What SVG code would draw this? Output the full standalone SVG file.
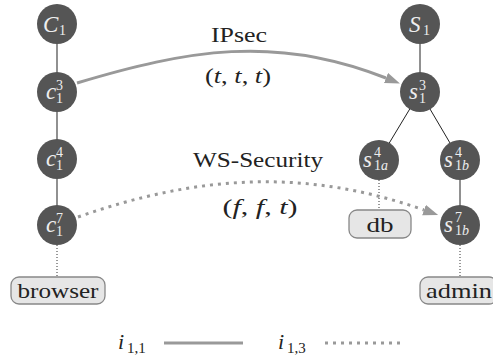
<svg xmlns="http://www.w3.org/2000/svg" width="493" height="358" viewBox="0 0 493 358">
<defs>
<style>
.nd{fill:#555;}
.tl{stroke:#555;stroke-width:1.3;fill:none;}
.tr{stroke:#222;stroke-width:1;fill:none;}
.vd{stroke:#333;stroke-width:1;stroke-dasharray:1 2;fill:none;}
.bx{fill:#e6e6e6;stroke:#888;stroke-width:1.3;}
.i1{stroke:#999;stroke-width:3;fill:none;}
.i3{stroke:#999;stroke-width:3;fill:none;stroke-dasharray:3 5;}
</style>
<marker id="ah" markerUnits="userSpaceOnUse" markerWidth="16" markerHeight="12" refX="0" refY="5.5" orient="auto">
<path d="M0,0 L15,5.5 L0,11 z" fill="#999"/>
</marker>
</defs>

<g id="tree-edges">
<line class="tl" x1="57" y1="24" x2="57" y2="92"/>
<line class="tl" x1="57" y1="92" x2="57" y2="159"/>
<line class="tl" x1="57" y1="159" x2="57" y2="225"/>
<line class="tr" x1="420" y1="24" x2="420" y2="92"/>
<line class="tr" x1="420" y1="92" x2="379" y2="160"/>
<line class="tr" x1="420" y1="92" x2="460" y2="160"/>
<line class="tr" x1="460" y1="160" x2="460" y2="225"/>
<line class="vd" x1="57" y1="245" x2="57" y2="277"/>
<line class="vd" x1="379" y1="180" x2="379" y2="210"/>
<line class="vd" x1="460" y1="245" x2="460" y2="277"/>
</g>

<g id="connectors">
<path class="i1" d="M77,83 C187,50 276,34 386,78" marker-end="url(#ah)"/>
<path class="i3" d="M78,217 C198,175 305,168 424,210" marker-end="url(#ah)"/>
</g>

<g id="C1">
<circle class="nd" cx="57" cy="24" r="20"/>
<text style="font-family:'Liberation Serif',serif;fill:#eee"><tspan x="43" y="32" style="font-size:23px;font-style:italic">C</tspan><tspan x="59" y="35" style="font-size:14px">1</tspan></text>
</g>
<g id="c13">
<circle class="nd" cx="57" cy="92" r="20"/>
<text style="font-family:'Liberation Serif',serif;fill:#eee"><tspan x="46" y="99" style="font-size:23px;font-style:italic">c</tspan><tspan x="56" y="90" style="font-size:14px">3</tspan><tspan x="56" y="103" style="font-size:14px">1</tspan></text>
</g>
<g id="c14">
<circle class="nd" cx="57" cy="159" r="20"/>
<text style="font-family:'Liberation Serif',serif;fill:#eee"><tspan x="46" y="166" style="font-size:23px;font-style:italic">c</tspan><tspan x="56" y="157" style="font-size:14px">4</tspan><tspan x="56" y="170" style="font-size:14px">1</tspan></text>
</g>
<g id="c17">
<circle class="nd" cx="57" cy="225" r="20"/>
<text style="font-family:'Liberation Serif',serif;fill:#eee"><tspan x="46" y="232" style="font-size:23px;font-style:italic">c</tspan><tspan x="56" y="223" style="font-size:14px">7</tspan><tspan x="56" y="236" style="font-size:14px">1</tspan></text>
</g>
<g id="S1">
<circle class="nd" cx="420" cy="24" r="20"/>
<text style="font-family:'Liberation Serif',serif;fill:#eee"><tspan x="409" y="32" style="font-size:23px;font-style:italic">S</tspan><tspan x="423" y="35" style="font-size:14px">1</tspan></text>
</g>
<g id="s13">
<circle class="nd" cx="420" cy="92" r="20"/>
<text style="font-family:'Liberation Serif',serif;fill:#eee"><tspan x="409" y="99" style="font-size:23px;font-style:italic">s</tspan><tspan x="419" y="90" style="font-size:14px">3</tspan><tspan x="419" y="103" style="font-size:14px">1</tspan></text>
</g>
<g id="s1a4">
<circle class="nd" cx="379" cy="160" r="20"/>
<text style="font-family:'Liberation Serif',serif;fill:#eee"><tspan x="363" y="167" style="font-size:23px;font-style:italic">s</tspan><tspan x="374" y="157" style="font-size:14px">4</tspan><tspan x="374" y="170" style="font-size:14px">1</tspan><tspan style="font-size:14px;font-style:italic">a</tspan></text>
</g>
<g id="s1b4">
<circle class="nd" cx="460" cy="160" r="20"/>
<text style="font-family:'Liberation Serif',serif;fill:#eee"><tspan x="444" y="167" style="font-size:23px;font-style:italic">s</tspan><tspan x="455" y="157" style="font-size:14px">4</tspan><tspan x="455" y="170" style="font-size:14px">1</tspan><tspan style="font-size:14px;font-style:italic">b</tspan></text>
</g>
<g id="s1b7">
<circle class="nd" cx="460" cy="225" r="20"/>
<text style="font-family:'Liberation Serif',serif;fill:#eee"><tspan x="444" y="232" style="font-size:23px;font-style:italic">s</tspan><tspan x="455" y="222" style="font-size:14px">7</tspan><tspan x="455" y="235" style="font-size:14px">1</tspan><tspan style="font-size:14px;font-style:italic">b</tspan></text>
</g>

<g id="browser">
<rect class="bx" x="11" y="277" width="94" height="27" rx="8"/>
<text style="font-family:'Liberation Serif',serif;font-size:22px;fill:#222" x="58" y="298" text-anchor="middle" textLength="81" lengthAdjust="spacingAndGlyphs">browser</text>
</g>
<g id="db">
<rect class="bx" x="349" y="210" width="62" height="28" rx="8"/>
<text style="font-family:'Liberation Serif',serif;font-size:22px;fill:#222" x="380" y="232" text-anchor="middle" textLength="27" lengthAdjust="spacingAndGlyphs">db</text>
</g>
<g id="admin">
<rect class="bx" x="420" y="277" width="77" height="27" rx="8"/>
<text style="font-family:'Liberation Serif',serif;font-size:22px;fill:#222" x="426" y="298" textLength="66" lengthAdjust="spacingAndGlyphs">admin</text>
</g>

<g id="labels">
<text style="font-family:'Liberation Serif',serif;font-size:22px;fill:#222" x="239" y="42" text-anchor="middle" textLength="56" lengthAdjust="spacingAndGlyphs">IPsec</text>
<text style="font-family:'Liberation Serif',serif;font-size:22px;fill:#222" x="238" y="83" text-anchor="middle" textLength="66" lengthAdjust="spacingAndGlyphs">(<tspan style="font-style:italic">t</tspan>, <tspan style="font-style:italic">t</tspan>, <tspan style="font-style:italic">t</tspan>)</text>
<text style="font-family:'Liberation Serif',serif;font-size:22px;fill:#222" x="258" y="167" text-anchor="middle" textLength="130" lengthAdjust="spacingAndGlyphs">WS-Security</text>
<text style="font-family:'Liberation Serif',serif;font-size:22px;fill:#222" x="260" y="214" text-anchor="middle" textLength="75" lengthAdjust="spacingAndGlyphs">(<tspan style="font-style:italic">f</tspan>, <tspan style="font-style:italic">f</tspan>, <tspan style="font-style:italic">t</tspan>)</text>
</g>

<g id="legend">
<text style="font-family:'Liberation Serif',serif;font-size:22px;fill:#222"><tspan x="118" y="349" style="font-style:italic">i</tspan><tspan x="127" y="353" style="font-size:15px">1,1</tspan></text>
<line class="i1" x1="164" y1="343" x2="243" y2="343"/>
<text style="font-family:'Liberation Serif',serif;font-size:22px;fill:#222"><tspan x="278" y="349" style="font-style:italic">i</tspan><tspan x="287" y="353" style="font-size:15px">1,3</tspan></text>
<line class="i3" x1="325" y1="343" x2="404" y2="343"/>
</g>
</svg>
